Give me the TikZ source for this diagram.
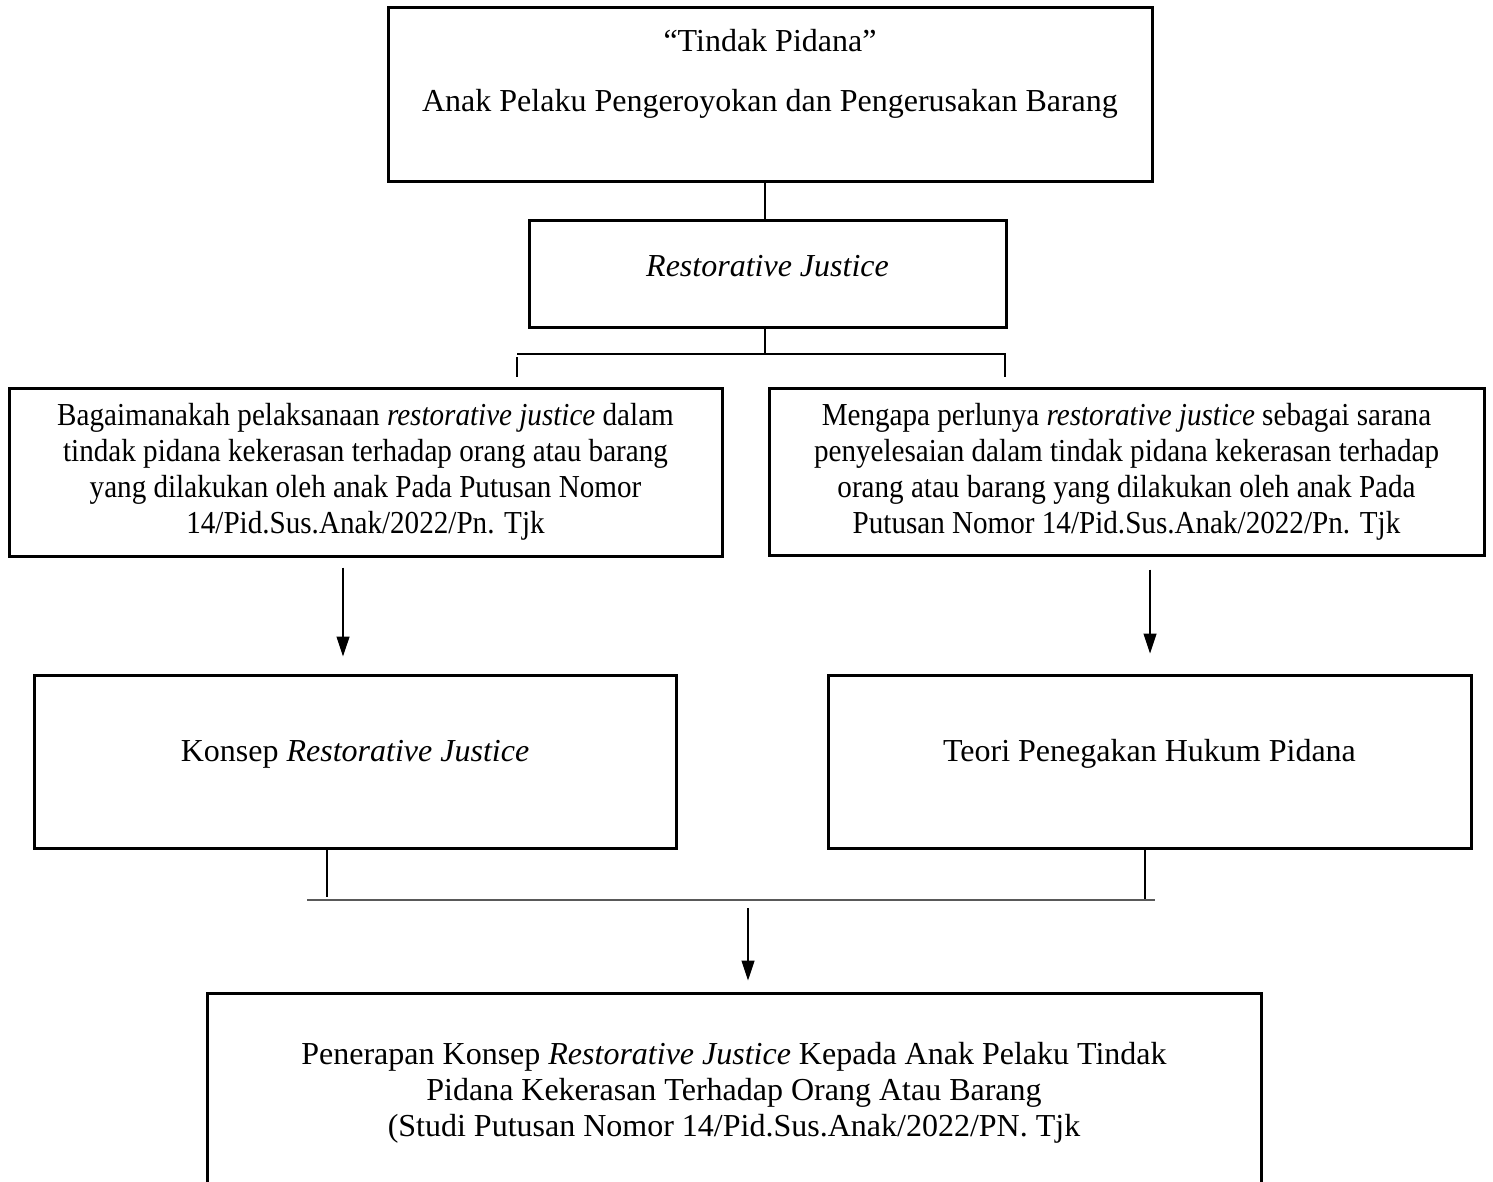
\documentclass[tikz,border=0pt]{standalone}
\usepackage{fontspec}
\setmainfont{Liberation Serif}
\newfontfamily\sempit[FakeStretch=0.91]{Liberation Serif}
\usetikzlibrary{arrows.meta}

\tikzset{every picture/.style={line width=0.6pt}}
\tikzset{
	kotak/.style={draw, line width=1.5pt, inner sep=0pt},
	teks/.style={align=center, font=\fontsize{16}{18}\selectfont},
	teks-sempit/.style={align=center, font=\fontsize{16}{18}\sempit},
	panah/.style={-{Triangle[length=10pt,width=6.5pt]}},
	garis/.style={draw=black!65, line width=1pt}
}

\begin{document}
\begin{tikzpicture}[x=0.5pt,y=0.5pt,yscale=-1,xscale=1]
	\useasboundingbox (0,0) rectangle (1493,1182);

	% Kotak Tindak Pidana
	\node[kotak, minimum width=382pt, minimum height=87pt] (tindak) at (770,95) {};
	\node[teks] (tindak-a) at (770,41) {“Tindak Pidana”};
	\node[teks] (tindak-b) at (770,104) {Anak Pelaku Pengeroyokan dan Pengerusakan Barang};

	% Kotak Restorative Justice
	\node[kotak, minimum width=238.5pt, minimum height=53pt] (rj) at (767.5,274) {};
	\node[teks] (rj-teks) at (767.5,266) {\itshape Restorative Justice};

	% Rumusan masalah
	\node[kotak, teks-sempit, minimum width=356.5pt, minimum height=84pt] (bagaimana) at (365.5,472) {Bagaimanakah pelaksanaan \textit{restorative justice} dalam\\ tindak pidana kekerasan terhadap orang atau barang\\ yang dilakukan oleh anak Pada Putusan Nomor\\ 14/Pid.Sus.Anak/2022/Pn. Tjk};
	\node[kotak, teks-sempit, minimum width=357.5pt, minimum height=83.5pt] (mengapa) at (1126.5,471.5) {Mengapa perlunya \textit{restorative justice} sebagai sarana\\ penyelesaian dalam tindak pidana kekerasan terhadap\\ orang atau barang yang dilakukan oleh anak Pada\\ Putusan Nomor 14/Pid.Sus.Anak/2022/Pn. Tjk};

	% Teori
	\node[kotak, minimum width=321pt, minimum height=86.5pt] (konsep) at (355,761.5) {};
	\node[teks] (konsep-teks) at (355,754) {Konsep \textit{Restorative Justice}};
	\node[kotak, minimum width=321.5pt, minimum height=86.5pt] (teori) at (1149.5,761.5) {};
	\node[teks] (teori-teks) at (1149.5,754) {Teori Penegakan Hukum Pidana};

	% Hasil
	\node[kotak, teks, minimum width=527pt, minimum height=100pt] (penerapan) at (734,1093) {Penerapan Konsep \textit{Restorative Justice} Kepada Anak Pelaku Tindak\\ Pidana Kekerasan Terhadap Orang Atau Barang\\ (Studi Putusan Nomor 14/Pid.Sus.Anak/2022/PN. Tjk};

	% Titik bantu
	\coordinate (cabang) at (765,354);
	\coordinate (cabang-l) at (517,354);
	\coordinate (cabang-r) at (1006,354);
	\coordinate (gabung) at (748,900);
	\coordinate (gabung-l) at (307,900);
	\coordinate (gabung-r) at (1155,900);

	% Garis penghubung
	\draw (rj.north -| 765,0) -- (tindak.south -| 765,0);
	\draw (rj.south -| 765,0) -- (cabang);
	\draw (cabang-l) -- (cabang-r);
	\draw ([yshift=1.5pt]cabang-l) -- ([yshift=-5pt]bagaimana.north -| cabang-l);
	\draw ([xshift=-0.5pt,yshift=0.5pt]cabang-r) -- ([xshift=-0.5pt,yshift=-5pt]mengapa.north -| cabang-r);

	\draw[panah] ([yshift=5pt]bagaimana.south -| 343,0) -- ([yshift=-8.5pt]konsep.north -| 343,0);
	\draw[panah] ([yshift=6.5pt]mengapa.south -| 1150,0) -- ([yshift=-10pt]teori.north -| 1150,0);

	\draw (konsep.south -| 327,0) -- ([yshift=-1.5pt]gabung-l -| 327,0);
	\draw (teori.south -| 1145,0) -- ([yshift=-0.5pt]gabung-r -| 1145,0);
	\draw[garis] (gabung-l) -- (gabung-r);
	\draw[panah] ([yshift=4pt]gabung) -- ([yshift=-5.5pt]penerapan.north -| gabung);

\end{tikzpicture}
\end{document}
